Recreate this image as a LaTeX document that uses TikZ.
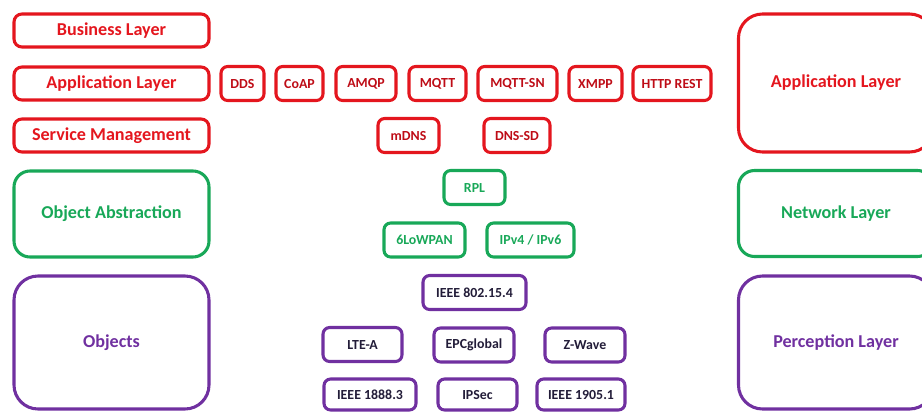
\documentclass[tikz,border=0pt]{standalone}
\usepackage{fontspec}
\setmainfont{Carlito}
\usetikzlibrary{positioning}
\definecolor{layerred}{RGB}{228,22,30}
\definecolor{protored}{RGB}{190,12,22}
\definecolor{layergreen}{RGB}{24,168,88}
\definecolor{layerpurple}{RGB}{112,48,160}
\definecolor{protodark}{RGB}{34,28,56}

\begin{document}
\begin{tikzpicture}[
    x=0.75pt, y=-0.75pt,
    bigfont/.style={font=\fontsize{13.6}{15}\selectfont\bfseries},
    smallfont/.style={font=\fontsize{10.4}{12}\selectfont\bfseries},
    redlayer/.style={rectangle, draw=layerred, line width=2.3pt, rounded corners=6pt,
        minimum width=146.25pt, minimum height=24.75pt, text=layerred, bigfont},
    greenlayer/.style={rectangle, draw=layergreen, line width=2.3pt, rounded corners=12pt,
        minimum width=146.25pt, minimum height=64.5pt, text=layergreen, bigfont},
    purplelayer/.style={rectangle, draw=layerpurple, line width=2.3pt, rounded corners=18pt,
        minimum width=146.25pt, minimum height=99.75pt, text=layerpurple, bigfont},
    redproto/.style={rectangle, draw=layerred, line width=2.3pt, rounded corners=5pt,
        inner sep=2pt, minimum height=25.5pt, text=protored, smallfont},
    greenproto/.style={rectangle, draw=layergreen, line width=2.3pt, rounded corners=5pt,
        inner sep=2pt, minimum height=25.5pt, text=layergreen, smallfont},
    purpleproto/.style={rectangle, draw=layerpurple, line width=2.3pt, rounded corners=5pt,
        inner sep=2pt, minimum height=25.5pt, text=protodark, smallfont}
]
\useasboundingbox (0,0) rectangle (922,412);

% === LEFT: layer names ===
\node[redlayer] (business) at (111.5,30.5) {Business Layer};
\node[redlayer] (applleft) at (111.5,83.5) {Application Layer};
\node[redlayer] (service) at (111.5,135.5) {Service Management};
\node[greenlayer] (abstraction) at (111.5,214) {Object Abstraction};
\node[purplelayer] (objects) at (111.5,342.5) {Objects};

% === RIGHT: layer names ===
\node[redlayer, minimum height=103.5pt, rounded corners=18pt] (applright) at (836,83) {Application Layer};
\node[greenlayer] (network) at (836,213.5) {Network Layer};
\node[purplelayer] (perception) at (836,342.5) {Perception Layer};

% === APPLICATION PROTOCOLS ===
\node[redproto, minimum width=32.25pt] (dds) at (242.5,83.5) {DDS};
\node[redproto, minimum width=35.25pt] (coap) at (299.5,83.5) {CoAP};
\node[redproto, minimum width=45pt] (amqp) at (366,83.5) {AMQP};
\node[redproto, minimum width=42.75pt] (mqtt) at (437.5,83.5) {MQTT};
\node[redproto, minimum width=59.25pt] (mqttsn) at (517.5,83.5) {MQTT-SN};
\node[redproto, minimum width=39.75pt] (xmpp) at (595.5,83.5) {XMPP};
\node[redproto, minimum width=58.5pt] (http) at (672,83.5) {HTTP REST};

% === SERVICE DISCOVERY ===
\node[redproto, minimum width=45.75pt] (mdns) at (408.5,135.5) {mDNS};
\node[redproto, minimum width=49.5pt] (dnssd) at (517,135.5) {DNS-SD};

% === ROUTING / NETWORK ===
\node[greenproto, minimum width=45.75pt] (rpl) at (474.5,187.5) {RPL};
\node[greenproto, minimum width=60.75pt] (lowpan) at (424.5,240) {6LoWPAN};
\node[greenproto, minimum width=65.25pt] (ipv) at (530.5,240) {IPv4 / IPv6};

% === LINK / PERCEPTION ===
\node[purpleproto, minimum width=77.25pt] (ieee802) at (474.5,292.5) {IEEE 802.15.4};
\node[purpleproto, minimum width=59.25pt] (lte) at (362.5,344.5) {LTE-A};
\node[purpleproto, minimum width=60pt] (epc) at (474,345) {EPCglobal};
\node[purpleproto, minimum width=60pt] (zwave) at (585,345) {Z-Wave};
\node[purpleproto, minimum width=69pt, minimum height=23.25pt] (ieee1888) at (370,394.5) {IEEE 1888.3};
\node[purpleproto, minimum width=59.25pt, minimum height=23.25pt] (ipsec) at (477.5,394.5) {IPSec};
\node[purpleproto, minimum width=66pt, minimum height=23.25pt] (ieee1905) at (581,394.5) {IEEE 1905.1};

\end{tikzpicture}
\end{document}
